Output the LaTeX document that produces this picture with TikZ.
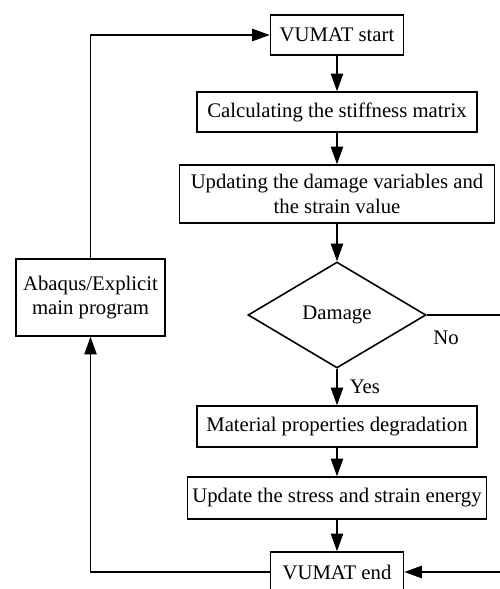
\documentclass[tikz,border=0pt]{standalone}
\usepackage{fontspec}
\setmainfont{Liberation Serif}
\usetikzlibrary{shapes.geometric, arrows.meta}
\tikzset{
  procbox/.style={draw, line width=0.9pt, inner sep=2pt, align=center, minimum height=0.8cm},
  decide/.style={draw, diamond, line width=0.9pt, inner sep=0pt, minimum width=3.56cm, minimum height=2.12cm},
  flowarrow/.style={line width=0.9pt, -{Triangle[length=10pt, width=7pt]}}
}
\begin{document}
\begin{tikzpicture}[x=0.02cm, y=-0.02cm, font=\fontsize{11.8}{14}\selectfont]
  \clip (0,0) rectangle (500,589);
  \node[procbox, minimum width=2.66cm] (start) at (337,35) {VUMAT start};
  \node[procbox, minimum width=5.6cm] (calc) at (337,112) {Calculating the stiffness matrix};
  \node[procbox, minimum width=6.3cm, minimum height=1.16cm] (upd) at (337,194) {Updating the damage variables and\\the strain value};
  \node[decide] (dam) at (337,315) {Damage};
  \node[procbox, minimum width=5.6cm, minimum height=0.82cm] (mat) at (337,426.5) {Material properties degradation};
  \node[procbox, minimum width=5.98cm, minimum height=0.84cm] (stress) at (337,498) {Update the stress and strain energy};
  \node[procbox, minimum width=2.66cm] (end) at (337,572) {VUMAT end};
  \node[procbox, minimum width=2.98cm, minimum height=1.54cm] (abq) at (90.5,297.5) {Abaqus/Explicit\\main program};
  \node (no) at (446,338) {No};
  \coordinate (rt) at (504,315);
  \foreach \a/\b in {start/calc,calc/upd,upd/dam,mat/stress,stress/end}{
    \draw[flowarrow] (\a) -- (\b);
  }
  \draw[flowarrow] (dam) -- node[right=3.5pt] (yes) {Yes} (mat);
  \draw[flowarrow] (dam.east) -- (rt) |- (end.east);
  \draw[flowarrow] (end.west) -| (abq.south);
  \draw[flowarrow] (abq.north) |- (start.west);
\end{tikzpicture}
\end{document}
